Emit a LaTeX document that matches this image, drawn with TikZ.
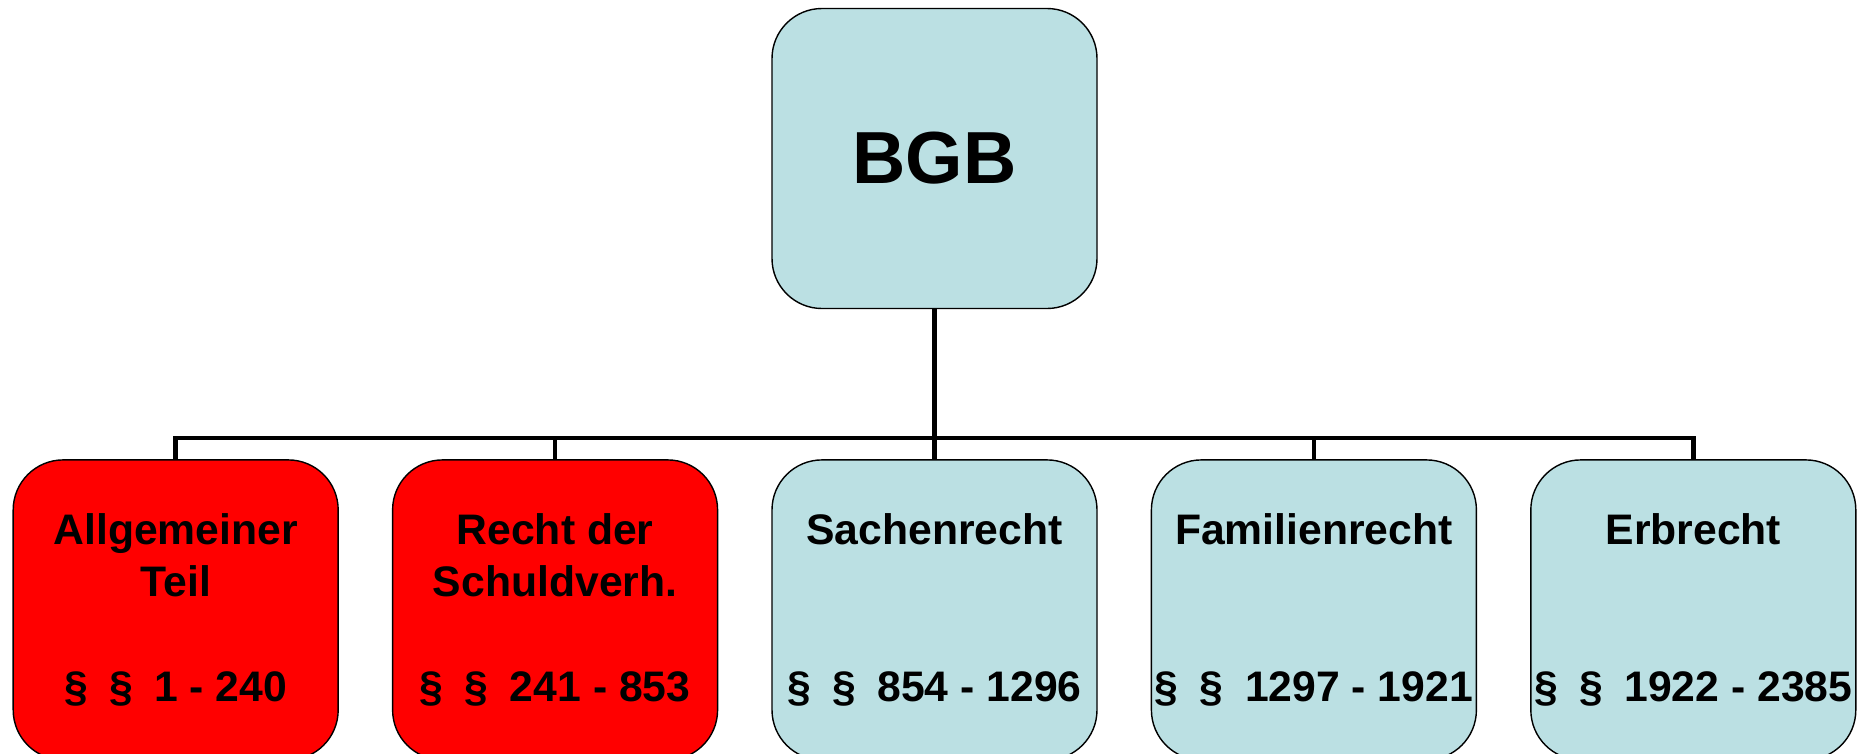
\documentclass[tikz,border=0pt]{standalone}
\usepackage{fontspec}
\setmainfont{Liberation Sans}
\usetikzlibrary{positioning}
\definecolor{PaleBlue}{HTML}{BBE0E3}
\tikzstyle{BasicBox}  = [rectangle, rounded corners=1cm, draw=black, line width=0.8pt, minimum width=6.5cm, minimum height=6cm, inner xsep=0pt, text centered, font=\bfseries]
\tikzstyle{BlueBody}  = [fill=PaleBlue]
\tikzstyle{RedBody}   = [fill=red]
\tikzstyle{PartBox}   = [BasicBox, align=center, font=\bfseries\fontsize{24.3}{29.8}\selectfont]
\tikzstyle{Connector} = [line width=2.6pt]
\newcommand{\paras}{§\hspace{0.5em}§\hspace{0.5em}}

\begin{document}
\begin{tikzpicture}

\useasboundingbox (0,0) rectangle (37.38,-15.06);

\node (bgb) [BasicBox, BlueBody,
             font=\bfseries\fontsize{42}{48}\selectfont] at (18.69,-3.17) {BGB};

%% ------------------------------------------------------------------- [ Books ]
\node (sachen) [PartBox, BlueBody,
                below = 3cm of bgb] {Sachenrecht\\~\\~\\\paras 854 - 1296};
\node (schuld) [PartBox, RedBody,
                left = 1.06cm of sachen] {Recht der\\Schuldverh.\\~\\\paras 241 - 853};
\node (allg) [PartBox, RedBody,
              left = 1.06cm of schuld] {Allgemeiner\\Teil\\~\\\paras 1 - 240};
\node (familie) [PartBox, BlueBody,
                 right = 1.06cm of sachen] {Familienrecht\\~\\~\\\paras 1297 - 1921};
\node (erb) [PartBox, BlueBody,
             right = 1.06cm of familie] {Erbrecht\\~\\~\\\paras 1922 - 2385};

%% -------------------------------------------------------------- [ Connectors ]
\coordinate (bar) at ([yshift=-2.58cm]bgb.south);
\foreach \book in {allg,schuld,sachen,familie,erb}
  \draw [Connector] (bgb.south) -- (bar) -| (\book.north);

\end{tikzpicture}
\end{document}
